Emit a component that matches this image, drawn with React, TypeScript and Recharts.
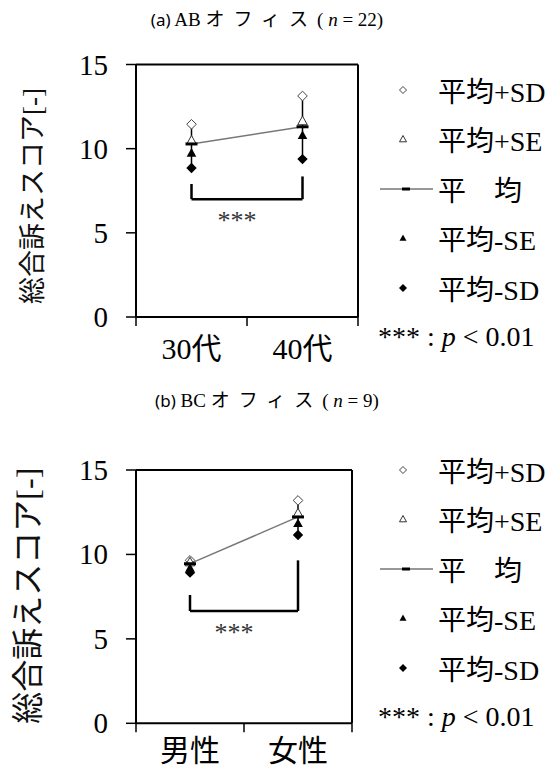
import React from "react";
import { ComposedChart, Line, Scatter, XAxis, YAxis, ReferenceLine, ErrorBar, Legend } from "recharts";

// (a) AB office, by age
const groupsA = ["30代", "40代"];
const meanA = [10.28, 11.3];
const plusSdA = [11.45, 13.13];
const plusSeA = [10.5, 11.65];
const minusSeA = [9.75, 10.8];
const minusSdA = [8.85, 9.38];
const bracketA = { leftTop: 7.9, rightTop: 8.35, bottom: 7.0 };

// (b) BC office, by sex
const groupsB = ["男性", "女性"];
const meanB = [9.45, 12.22];
const plusSdB = [9.65, 13.2];
const plusSeB = [9.55, 12.45];
const minusSeB = [9.2, 11.85];
const minusSdB = [8.92, 11.15];
const bracketB = { leftTop: 7.6, rightTop: 9.65, bottom: 6.65 };

const yTicks = [0, 5, 10, 15];
const xTicks = [0, 0.5, 1, 1.5, 2];
const legendLabels = ["平均+SD", "平均+SE", "平\u3000均", "平均-SE", "平均-SD"];
const yTitle = "総合訴えスコア[-]";

const serif = '"Liberation Serif", "Times New Roman", "Noto Sans CJK JP", serif';

function buildRows(groups: string[], mean: number[], psd: number[], pse: number[], mse: number[], msd: number[]) {
  return groups.map((g, i) => ({
    x: i + 0.5,
    name: g,
    mean: mean[i],
    plusSd: psd[i],
    plusSe: pse[i],
    minusSe: mse[i],
    minusSd: msd[i],
    sdErr: [mean[i] - msd[i], psd[i] - mean[i]],
  }));
}

const rowsA = buildRows(groupsA, meanA, plusSdA, plusSeA, minusSeA, minusSdA);
const rowsB = buildRows(groupsB, meanB, plusSdB, plusSeB, minusSeB, minusSdB);

const diamond = (cx: number, cy: number, r: number) =>
  `${cx},${cy - r} ${cx + r},${cy} ${cx},${cy + r} ${cx - r},${cy}`;
const triangle = (cx: number, cy: number, r: number) =>
  `${cx},${cy - r} ${cx + r},${cy + r * 0.8} ${cx - r},${cy + r * 0.8}`;

const HollowDiamond = (p: any) => <polygon points={diamond(p.cx, p.cy, 4.8)} fill="#fff" stroke="#444" strokeWidth={1} />;
const HollowTriangle = (p: any) => <polygon points={triangle(p.cx, p.cy, 4.8)} fill="#fff" stroke="#333" strokeWidth={1} />;
const FilledTriangle = (p: any) => <polygon points={triangle(p.cx, p.cy, 4.8)} fill="#000" />;
const FilledDiamond = (p: any) => <polygon points={diamond(p.cx, p.cy, 5.2)} fill="#000" />;
const MeanDash = (p: any) => <rect key={p.index} x={p.cx - 6} y={p.cy - 1.5} width={12} height={3} fill="#000" />;

const YTick = (props: any) => {
  const { x, y, payload } = props;
  return (
    <text x={x} y={y} dy={10} textAnchor="end" fill="#000" style={{ fontFamily: serif, fontSize: 29 }}>
      {payload.value}
    </text>
  );
};

function LegendBox() {
  const rowH = 49.5;
  const icons = [
    <polygon points={diamond(33, 12, 3.5)} fill="#fff" stroke="#444" strokeWidth={1} />,
    <polygon points={triangle(33, 12, 3.5)} fill="#fff" stroke="#333" strokeWidth={1} />,
    <g>
      <line x1={10} x2={63} y1={12} y2={12} stroke="#333" strokeWidth={1.2} />
      <rect x={32} y={10.5} width={8} height={3} fill="#000" />
    </g>,
    <polygon points={triangle(33, 12, 3.5)} fill="#000" />,
    <polygon points={diamond(33, 12, 4)} fill="#000" />,
  ];
  return (
    <div style={{ fontFamily: serif, fontSize: 28, color: "#000" }}>
      {legendLabels.map((t, i) => (
        <div key={t} style={{ height: rowH, display: "flex", alignItems: "center" }}>
          <svg width={66} height={24} style={{ flex: "none" }}>
            {icons[i]}
          </svg>
          <span style={{ marginLeft: 2, whiteSpace: "nowrap" }}>{t}</span>
        </div>
      ))}
      <div style={{ height: rowH, display: "flex", alignItems: "center", paddingLeft: 8 }}>
        <span style={{ whiteSpace: "pre" }}>
          {"*** : "}
          <i>p</i>
          {" < 0.01"}
        </span>
      </div>
    </div>
  );
}

interface PanelProps {
  rows: any[];
  groups: string[];
  bracket: { leftTop: number; rightTop: number; bottom: number };
  height: number;
  margin: { top: number; right: number; bottom: number; left: number };
  xAxisHeight: number;
  labelDy: number;
  titleCx: number;
  titleCy: number;
  titleSize: number;
  starDx: number;
}

function Panel({ rows, groups, bracket, height, margin, xAxisHeight, labelDy, titleCx, titleCy, titleSize, starDx }: PanelProps) {
  const XTick = (props: any) => {
    const { x, y, payload } = props;
    const v = payload.value;
    if (Number.isInteger(v)) {
      return <line x1={x} x2={x} y1={y} y2={y + 9} stroke="#000" strokeWidth={1.5} />;
    }
    return (
      <text x={x} y={y + labelDy} textAnchor="middle" fill="#000" style={{ fontFamily: serif, fontSize: 30 }}>
        {groups[Math.floor(v)]}
      </text>
    );
  };

  const left = rows[0].x;
  const right = rows[1].x;

  return (
    <ComposedChart width={558} height={height} data={rows} margin={margin}>
      <XAxis
        dataKey="x"
        type="number"
        domain={[0, 2]}
        ticks={xTicks}
        interval={0}
        tickSize={0}
        tickMargin={0}
        tickLine={false}
        axisLine={{ stroke: "#000", strokeWidth: 2 }}
        tick={<XTick />}
        height={xAxisHeight}
      />
      <YAxis
        type="number"
        domain={[0, 15]}
        ticks={yTicks}
        interval={0}
        width={120}
        tickSize={10}
        tickMargin={18}
        axisLine={{ stroke: "#000", strokeWidth: 2 }}
        tickLine={{ stroke: "#000", strokeWidth: 1.5 }}
        tick={<YTick />}
        label={() => (
          <text
            x={titleCx}
            y={titleCy}
            transform={`rotate(-90 ${titleCx} ${titleCy})`}
            textAnchor="middle"
            dominantBaseline="central"
            fill="#111"
            style={{ fontFamily: serif, fontSize: titleSize }}
          >
            {yTitle}
          </text>
        )}
      />
      <ReferenceLine y={15} stroke="#000" strokeWidth={2} />
      <ReferenceLine x={2} stroke="#000" strokeWidth={2} />
      <ReferenceLine
        segment={[{ x: left, y: bracket.leftTop }, { x: left, y: bracket.bottom }]}
        stroke="#000"
        strokeWidth={2.5}
      />
      <ReferenceLine
        segment={[{ x: left, y: bracket.bottom }, { x: right, y: bracket.bottom }]}
        stroke="#000"
        strokeWidth={2.5}
        label={(p: any) => {
          const vb = p.viewBox || {};
          const cx = (vb.x || 0) + (vb.width || 0) / 2 + starDx;
          return (
            <text x={cx} y={(vb.y || 0) + 30} textAnchor="middle" fill="#333" style={{ fontFamily: serif, fontSize: 26 }}>
              ***
            </text>
          );
        }}
      />
      <ReferenceLine
        segment={[{ x: right, y: bracket.bottom }, { x: right, y: bracket.rightTop }]}
        stroke="#000"
        strokeWidth={2.5}
      />
      <Line
        dataKey="mean"
        stroke="#777"
        strokeWidth={1.4}
        dot={MeanDash}
        activeDot={false}
        isAnimationActive={false}
      >
        <ErrorBar dataKey="sdErr" width={0} stroke="#000" strokeWidth={1.5} direction="y" />
      </Line>
      <Scatter dataKey="plusSd" shape={HollowDiamond} isAnimationActive={false} />
      <Scatter dataKey="plusSe" shape={HollowTriangle} isAnimationActive={false} />
      <Scatter dataKey="minusSe" shape={FilledTriangle} isAnimationActive={false} />
      <Scatter dataKey="minusSd" shape={FilledDiamond} isAnimationActive={false} />
      <Legend
        layout="vertical"
        align="center"
        verticalAlign="middle"
        wrapperStyle={{ left: 370, top: 65, width: 188 }}
        content={() => <LegendBox />}
      />
    </ComposedChart>
  );
}

function Title({ top, letter, office, n }: { top: number; letter: string; office: string; n: number }) {
  return (
    <div
      style={{
        position: "absolute",
        left: 0,
        top,
        width: 534,
        textAlign: "center",
        fontFamily: serif,
        fontSize: 19,
        lineHeight: "24px",
        whiteSpace: "nowrap",
        color: "#000",
      }}
    >
      <span style={{ fontFamily: '"Noto Sans", sans-serif', fontSize: 17 }}>({letter})</span> {office}{" "}
      <span style={{ fontSize: 19, letterSpacing: 9 }}>オフィス</span>( <i>n</i> = {n})
    </div>
  );
}

export default function App() {
  return (
    <div style={{ position: "absolute", left: 0, top: 0, width: 558, height: 767, background: "#fff", overflow: "hidden" }}>
      <Title top={8} letter="a" office="AB" n={22} />
      <div style={{ position: "absolute", left: 0, top: 0 }}>
        <Panel
          rows={rowsA}
          groups={groupsA}
          bracket={bracketA}
          height={380}
          margin={{ top: 64.5, right: 200, bottom: 13, left: 16 }}
          xAxisHeight={50}
          labelDy={42}
          titleCx={32.5}
          titleCy={196}
          titleSize={27}
          starDx={-10}
        />
      </div>
      <Title top={389} letter="b" office="BC" n={9} />
      <div style={{ position: "absolute", left: 0, top: 380 }}>
        <Panel
          rows={rowsB}
          groups={groupsB}
          bracket={bracketB}
          height={387}
          margin={{ top: 90, right: 206, bottom: 3.7, left: 16 }}
          xAxisHeight={40}
          labelDy={38}
          titleCx={28}
          titleCy={215.7}
          titleSize={32}
          starDx={-10}
        />
      </div>
    </div>
  );
}
